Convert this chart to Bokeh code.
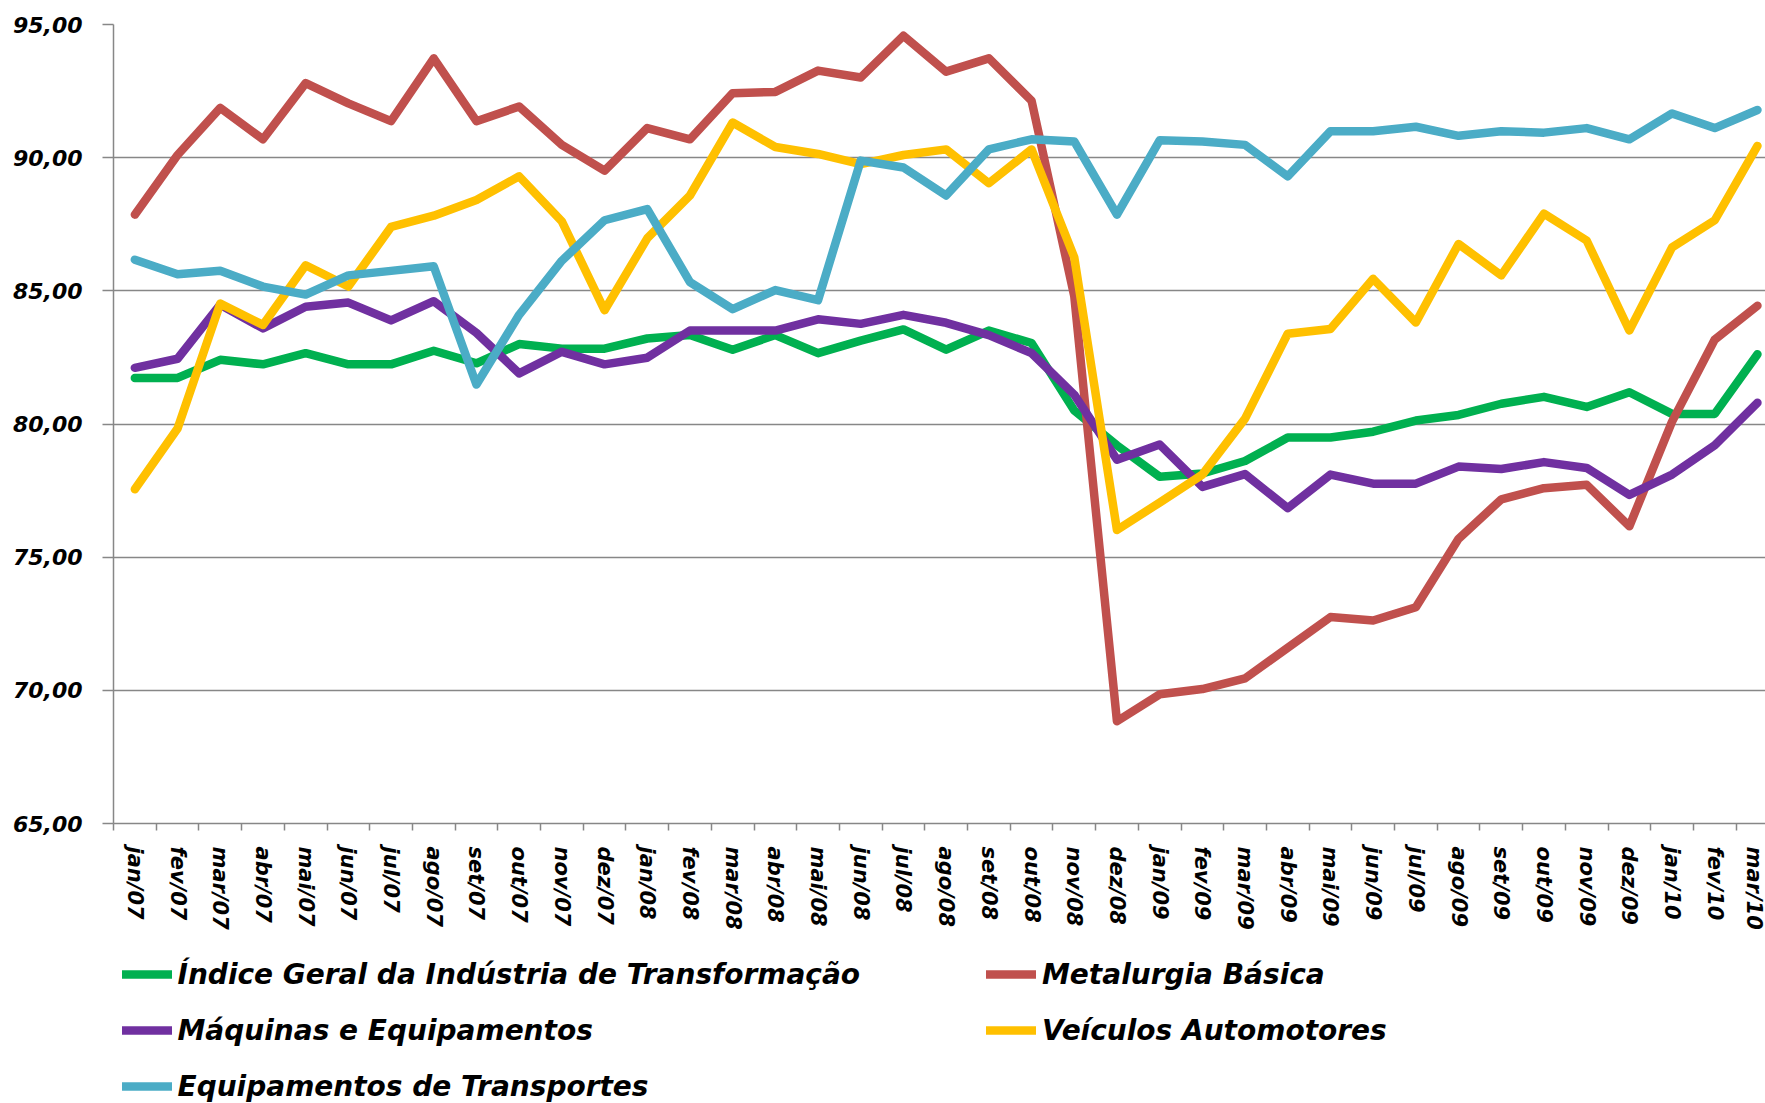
from bokeh.plotting import figure
from bokeh.models import Range1d, FixedTicker, Legend, LegendItem
from bokeh.layouts import column
from bokeh.embed import file_html
from bokeh.resources import INLINE

months = ["jan/07", "fev/07", "mar/07", "abr/07", "mai/07", "jun/07", "jul/07", "ago/07",
          "set/07", "out/07", "nov/07", "dez/07",
          "jan/08", "fev/08", "mar/08", "abr/08", "mai/08", "jun/08", "jul/08", "ago/08",
          "set/08", "out/08", "nov/08", "dez/08",
          "jan/09", "fev/09", "mar/09", "abr/09", "mai/09", "jun/09", "jul/09", "ago/09",
          "set/09", "out/09", "nov/09", "dez/09",
          "jan/10", "fev/10", "mar/10"]

indice_geral = [81.73, 81.73, 82.41, 82.24, 82.66, 82.24, 82.24, 82.75, 82.28, 83.00, 82.83, 82.83,
                83.21, 83.34, 82.79, 83.34, 82.66, 83.13, 83.55, 82.79, 83.51, 83.04, 80.51, 79.20,
                78.02, 78.14, 78.61, 79.49, 79.49, 79.71, 80.13, 80.34, 80.76, 81.02, 80.64, 81.19,
                80.38, 80.38, 82.62]

metalurgia = [87.86, 90.10, 91.87, 90.69, 92.80, 92.04, 91.37, 93.73, 91.37, 91.92, 90.48, 89.51,
              91.11, 90.69, 92.42, 92.47, 93.27, 93.01, 94.58, 93.23, 93.73, 92.14, 84.80, 68.84,
              69.85, 70.05, 70.45, 71.60, 72.75, 72.62, 73.12, 75.69, 77.17, 77.59, 77.72, 76.16,
              80.09, 83.17, 84.44]

maquinas = [82.11, 82.45, 84.48, 83.59, 84.40, 84.56, 83.89, 84.61, 83.42, 81.90, 82.71, 82.24,
            82.49, 83.51, 83.51, 83.51, 83.93, 83.76, 84.10, 83.80, 83.34, 82.66, 81.10, 78.66,
            79.23, 77.64, 78.12, 76.84, 78.10, 77.76, 77.76, 78.40, 78.31, 78.57, 78.35, 77.34,
            78.10, 79.20, 80.80]

veiculos = [77.55, 79.83, 84.52, 83.72, 85.96, 85.16, 87.40, 87.82, 88.41, 89.30, 87.61, 84.27,
            86.97, 88.58, 91.32, 90.40, 90.14, 89.76, 90.10, 90.31, 89.04, 90.31, 86.26, 76.02,
            77.05, 78.10, 80.20, 83.39, 83.57, 85.45, 83.81, 86.76, 85.58, 87.90, 86.89, 83.51,
            86.63, 87.65, 90.44]

equip_transportes = [86.17, 85.62, 85.75, 85.16, 84.86, 85.58, 85.75, 85.92, 81.48, 84.10, 86.13, 87.65,
                     88.07, 85.33, 84.31, 85.03, 84.65, 89.89, 89.63, 88.58, 90.31, 90.69, 90.61, 87.86,
                     90.65, 90.61, 90.48, 89.30, 90.99, 90.99, 91.16, 90.82, 90.99, 90.94, 91.11, 90.69,
                     91.66, 91.11, 91.79]

series_names = ["Índice Geral da Indústria de Transformação", "Metalurgia Básica",
                "Máquinas e Equipamentos", "Veículos Automotores", "Equipamentos de Transportes"]
series_colors = ["#00B050", "#C0504D", "#7030A0", "#FFC000", "#4BACC6"]

y_ticks = [65, 70, 75, 80, 85, 90, 95]
y_tick_labels = ["65,00", "70,00", "75,00", "80,00", "85,00", "90,00", "95,00"]

x = list(range(len(months)))
all_series = [indice_geral, metalurgia, maquinas, veiculos, equip_transportes]
GRAY = "#878787"
FONT = "DejaVu Sans"
LW = 8.5

W = 1765
H_MAIN, H_LEG = 945, 158
border_left, border_top, border_bottom = 113, 24, 122
px_per_cat = 42.7
x_end = -0.5 + (W - border_left) / px_per_cat

# ---------------- main chart ----------------
p = figure(width=W, height=H_MAIN, x_range=Range1d(-0.5, x_end), y_range=Range1d(65, 95),
           output_backend="svg", toolbar_location=None,
           min_border_left=border_left, min_border_right=0,
           min_border_top=border_top, min_border_bottom=border_bottom)
p.outline_line_color = None
p.background_fill_color = "white"
p.border_fill_color = "white"

for data, color in zip(all_series, series_colors):
    p.line(x, data, line_color=color, line_width=LW, line_join="round", line_cap="round")

p.xgrid.visible = False
p.ygrid.ticker = FixedTicker(ticks=y_ticks)
p.ygrid.grid_line_color = GRAY
p.ygrid.grid_line_width = 1.5

xa = p.xaxis[0]
xa.ticker = FixedTicker(ticks=x, minor_ticks=[i - 0.5 for i in range(len(months) + 1)])
xa.major_label_overrides = {i: m for i, m in enumerate(months)}
xa.major_tick_line_color = None
xa.major_tick_out = 0
xa.major_tick_in = 0
xa.minor_tick_out = 7
xa.minor_tick_in = 0
xa.minor_tick_line_color = GRAY
xa.minor_tick_line_width = 1.5
xa.axis_line_color = GRAY
xa.axis_line_width = 1.5
xa.major_label_orientation = "vertical"
xa.major_label_standoff = 16
xa.major_label_text_font = FONT
xa.major_label_text_font_style = "bold italic"
xa.major_label_text_font_size = "21px"
xa.major_label_text_color = "black"

ya = p.yaxis[0]
ya.ticker = FixedTicker(ticks=y_ticks)
ya.major_label_overrides = dict(zip(y_ticks, y_tick_labels))
ya.major_tick_out = 11
ya.major_tick_in = 0
ya.major_tick_line_color = GRAY
ya.major_tick_line_width = 1.5
ya.minor_tick_line_color = None
ya.axis_line_color = GRAY
ya.axis_line_width = 1.5
ya.major_label_standoff = 20
ya.major_label_text_font = FONT
ya.major_label_text_font_style = "bold italic"
ya.major_label_text_font_size = "22px"
ya.major_label_text_color = "black"

# ---------------- legend strip ----------------
pl = figure(width=W, height=H_LEG, x_range=Range1d(0, 1), y_range=Range1d(0, 1),
            x_axis_type=None, y_axis_type=None, output_backend="svg", toolbar_location=None,
            min_border_left=border_left, min_border_right=0,
            min_border_top=0, min_border_bottom=0)
pl.outline_line_color = None
pl.background_fill_color = "white"
pl.border_fill_color = "white"

leg_renderers = []
for data, color in zip(all_series, series_colors):
    # same series, drawn outside this strip's visible range; used only as legend glyphs
    r = pl.line(x, data, line_color=color, line_width=LW, line_join="round", line_cap="round")
    leg_renderers.append(r)

ROW = 56


def make_legend(items, loc):
    return Legend(items=items, location=loc, orientation="vertical",
                  glyph_width=50, glyph_height=ROW, label_height=ROW, spacing=0,
                  padding=0, margin=0, label_standoff=6,
                  border_line_color=None, background_fill_alpha=0,
                  label_text_font=FONT, label_text_font_style="bold italic",
                  label_text_font_size="28px", label_text_color="black")


leg_top = 1.0  # px below the strip's top edge
leg1 = make_legend([LegendItem(label=series_names[0], renderers=[leg_renderers[0]]),
                    LegendItem(label=series_names[2], renderers=[leg_renderers[2]]),
                    LegendItem(label=series_names[4], renderers=[leg_renderers[4]])],
                   (121.5 - border_left, H_LEG - leg_top - 3 * ROW))
leg2 = make_legend([LegendItem(label=series_names[1], renderers=[leg_renderers[1]]),
                    LegendItem(label=series_names[3], renderers=[leg_renderers[3]])],
                   (986.0 - border_left, H_LEG - leg_top - 2 * ROW))
pl.add_layout(leg1, "center")
pl.add_layout(leg2, "center")

layout = column(p, pl, spacing=0)
open("out.html", "w").write(file_html(layout, INLINE))
